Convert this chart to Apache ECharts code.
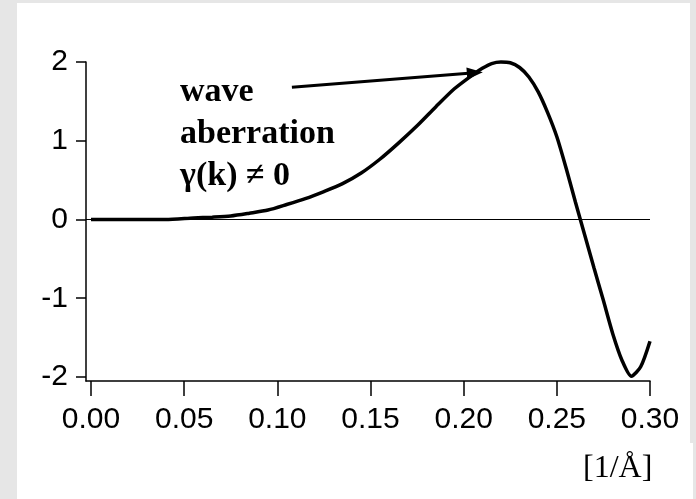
<!DOCTYPE html>
<html>
<head>
<meta charset="utf-8">
<script src="https://cdn.jsdelivr.net/npm/echarts@6/dist/echarts.min.js"></script>
<style>
html,body{margin:0;padding:0;background:#e6e6e6;}
#chart{width:696px;height:499px;}
</style>
</head>
<body>
<div id="chart"></div>
<script>
// k values [1/Å]
const kValues = [0, 0.02, 0.04, 0.055, 0.065, 0.075, 0.085, 0.095, 0.105, 0.115, 0.125, 0.135, 0.145, 0.155, 0.165, 0.175, 0.185, 0.195, 0.205, 0.21, 0.215, 0.22, 0.225, 0.23, 0.235, 0.24, 0.245, 0.25, 0.255, 0.26, 0.265, 0.27, 0.275, 0.28, 0.285, 0.29, 0.295, 0.3];
// wave aberration gamma(k)
const gammaValues = [0, 0, 0, 0.02, 0.03, 0.045, 0.08, 0.12, 0.19, 0.265, 0.355, 0.455, 0.59, 0.765, 0.97, 1.19, 1.43, 1.66, 1.84, 1.92, 1.98, 2.0, 1.99, 1.93, 1.81, 1.62, 1.36, 1.05, 0.65, 0.22, -0.2, -0.62, -1.03, -1.45, -1.79, -1.99, -1.87, -1.545];
const xTicks = [0, 0.05, 0.1, 0.15, 0.2, 0.25, 0.3];
const yTicks = [-2, -1, 0, 1, 2];
const annotationText = 'wave\naberration\nγ(k) ≠ 0';
const xUnitText = '[1/Å]';
// arrow annotation endpoints in data space [k, gamma]
const arrowStart = [0.1078, 1.68];
const arrowEnd = [0.206, 1.863];

const chart = echarts.init(document.getElementById('chart'), null, {renderer: 'canvas'});
const seriesData = kValues.map((k, i) => [k, gammaValues[i]]);

const option = {
  animation: false,
  backgroundColor: '#e6e6e6',
  grid: {left: 86, right: 46, top: 62, bottom: 118, containLabel: false},
  xAxis: {
    type: 'value',
    min: -0.0027,
    max: 0.3,
    axisLine: {show: true, onZero: false, lineStyle: {color: '#000', width: 1.5}},
    axisTick: {show: true, customValues: xTicks, length: 15, lineStyle: {color: '#000', width: 1.5}},
    axisLabel: {show: true, customValues: xTicks, formatter: v => v.toFixed(2), color: '#000', fontSize: 30, fontFamily: 'Liberation Sans', margin: 24},
    splitLine: {show: false}
  },
  yAxis: {
    type: 'value',
    min: -2.051,
    max: 2,
    axisLine: {show: true, onZero: false, lineStyle: {color: '#000', width: 1.5}},
    axisTick: {show: true, customValues: yTicks, length: 10, lineStyle: {color: '#000', width: 1.5}},
    axisLabel: {show: true, customValues: yTicks, formatter: v => String(v), color: '#000', fontSize: 30, fontFamily: 'Liberation Sans', margin: 18},
    splitLine: {show: false}
  },
  graphic: [
    {type: 'rect', z: -10, shape: {x: 17, y: 3, width: 673, height: 496}, style: {fill: '#fff'}, silent: true},
    {type: 'rect', z: -10, shape: {x: 690, y: 443, width: 3, height: 56}, style: {fill: '#fff'}, silent: true},
    {type: 'text', left: 180, top: 71, z: 10, style: {text: annotationText, font: 'bold 34px "Liberation Serif"', lineHeight: 42, fill: '#000'}},
    {type: 'text', left: 583, top: 453, z: 10, style: {text: xUnitText, font: '32px "Liberation Serif"', fill: '#000'}}
  ],
  series: [{
    type: 'line',
    data: seriesData,
    showSymbol: false,
    smooth: 0.25,
    clip: false,
    lineStyle: {color: '#000', width: 3.5},
    markLine: {
      silent: true,
      symbol: ['none', 'none'],
      label: {show: false},
      data: [
        {yAxis: 0, lineStyle: {color: '#000', width: 1.2, type: 'solid'}},
        [
          {coord: arrowStart, symbol: 'none', lineStyle: {color: '#000', width: 3, type: 'solid'}},
          {coord: arrowEnd, symbol: 'triangle', symbolSize: [12, 16]}
        ]
      ]
    }
  }]
};
chart.setOption(option);
</script>
</body>
</html>
